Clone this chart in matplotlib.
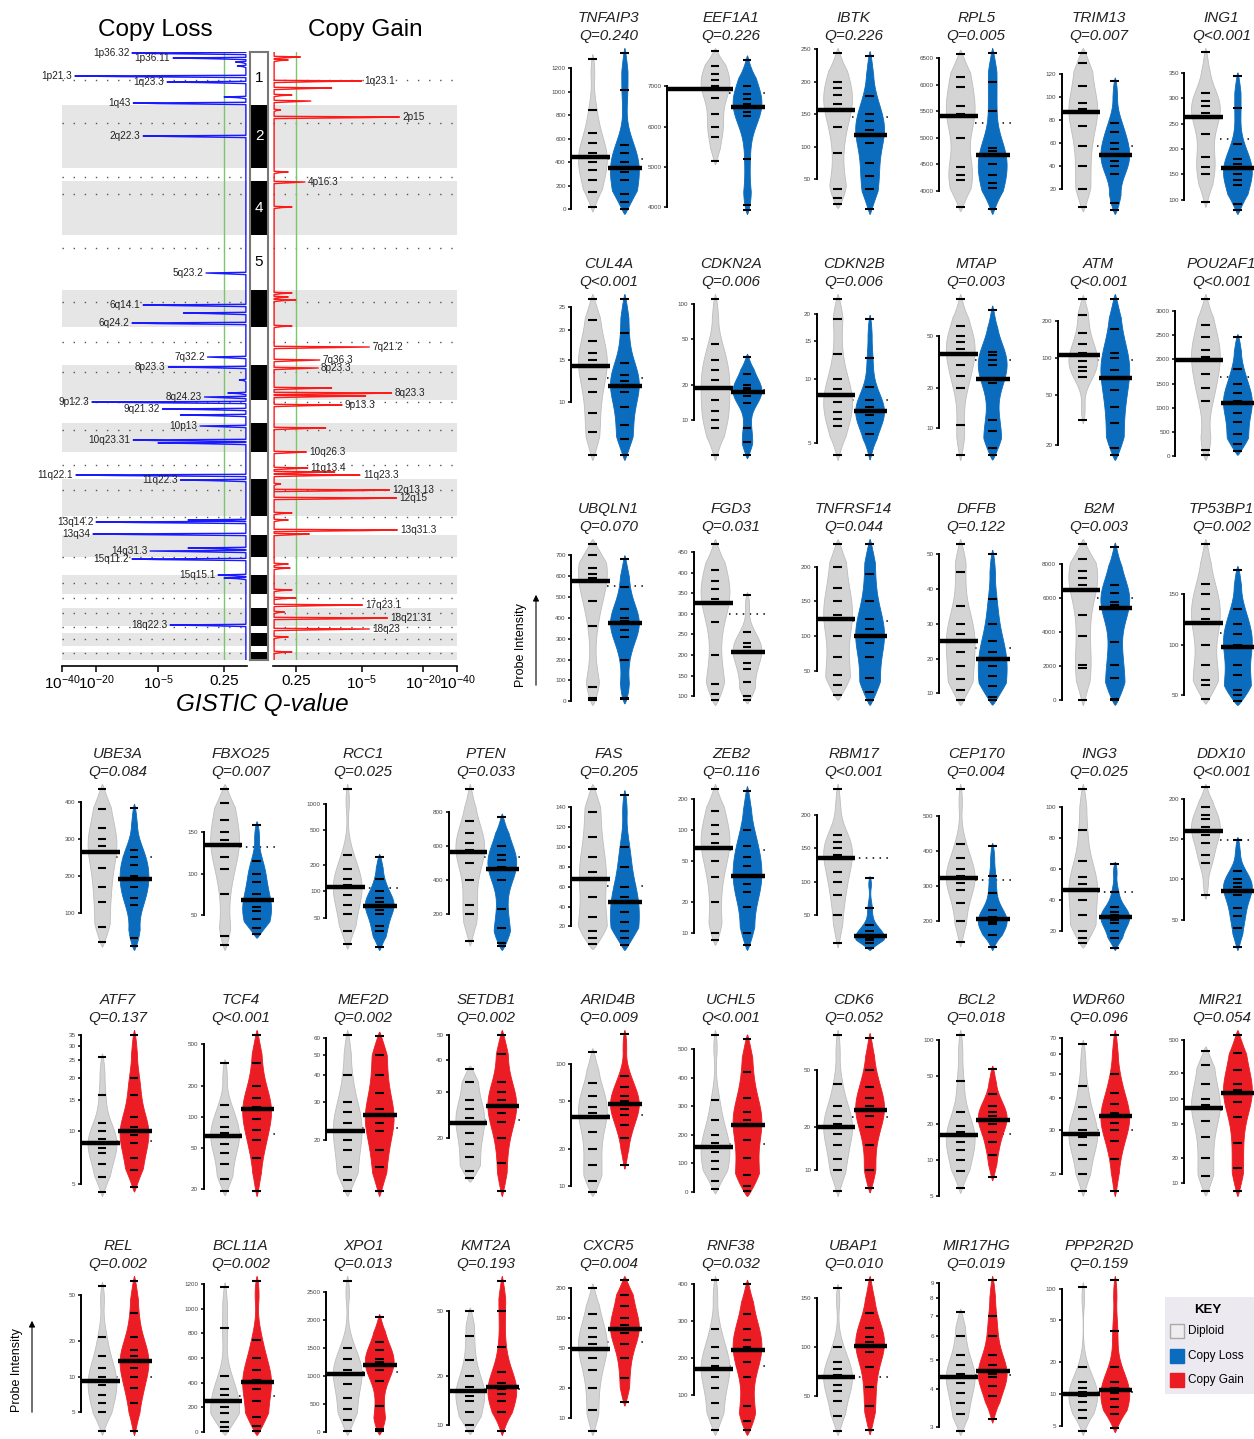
import numpy as np
import matplotlib
matplotlib.use('Agg')
import matplotlib.pyplot as plt
from matplotlib import mlab
from matplotlib.patches import Rectangle, FancyArrowPatch

plt.rcParams['font.family'] = ['Liberation Sans', 'DejaVu Sans']
plt.rcParams['mathtext.default'] = 'regular'

W, H = 1254, 1439

# ---------------- GISTIC data ----------------
# genome index (marker order) of chromosome boundaries, chr1 .. chr22
chrom_edges = [52, 105, 168, 181, 235, 290, 327, 365, 400, 423, 452, 479,
               516, 535, 557, 575, 594, 608, 626, 633, 646, 652, 660]
chrom_names = {1: '1', 2: '2', 4: '4', 5: '5'}
centromeres = [80, 123, 177, 194, 248, 302, 342, 372, 402, 430, 465, 490,
               517, 557, 583, 598, 613, 627, 639, 653]

# peaks as -log10(Q)
loss_pos = [53, 58, 62, 66, 76, 82, 97, 103, 136, 273, 305, 313, 323, 357, 367,
            380, 393, 397, 402, 409, 415, 426, 440, 443, 475, 480, 520, 522,
            534, 548, 551, 559, 575, 578, 625]
loss_score = [11.3, 4.0, 0.3, 0.25, 32.4, 4.4, 0.6, 11.0, 8.6, 1.8, 8.6, 3.3, 11.3,
              1.7, 4.3, 0.2, 0.5, 1.9, 22.4, 4.7, 3.5, 2.2, 11.0, 5.0, 31.8,
              3.5, 3.0, 20.0, 21.8, 3.0, 6.9, 11.3, 1.0, 0.6, 4.2]
loss_label = ['1p36.32', '1p36.11', '', '', '1p21.3', '1q23.3', '', '1q43', '2q22.3',
              '5q23.2', '6q14.1', '', '6q24.2', '7q32.2', '8p23.3', '', '', '8q24.23',
              '9p12.3', '9q21.32', '', '10p13', '10q23.31', '', '11q22.1', '11q22.3',
              '', '13q14.2', '13q34', '', '14q31.3', '15q11.2', '15q15.1', '', '18q22.3']

gain_pos = [57, 60, 81, 88, 95, 101, 110, 117, 172, 182, 207, 293, 297, 300, 326,
            347, 360, 368, 388, 393, 396, 405, 428, 452, 468, 472, 475, 484, 490,
            498, 513, 520, 530, 534, 564, 568, 590, 598, 605, 612, 618, 629, 637, 652]
gain_score = [0.9, 0.4, 5.0, 3.0, 0.5, 1.6, 0.2, 14.2, 0.4, 1.2, 0.5, 0.5, 0.4, 0.6,
              0.5, 6.9, 2.2, 2.1, 3.0, 12.3, 6.0, 3.7, 2.6, 1.3, 1.4, 3.2, 4.9, 0.2,
              11.8, 13.5, 0.5, 0.4, 13.7, 1.5, 0.4, 0.45, 0.5, 0.6, 5.2, 0.3, 11.3,
              6.9, 0.4, 0.5]
gain_label = ['', '', '1q23.1', '', '', '', '', '2p15', '', '4p16.3', '', '', '', '',
              '', '7q21.2', '7q36.3', '8p23.3', '', '8q23.3', '', '9p13.3', '',
              '10q26.3', '11q13.4', '', '11q23.3', '', '12q13.13', '12q15', '', '',
              '13q31.3', '', '', '', '', '', '17q23.1', '', '18q21.31', '18q23', '', '']

# GISTIC axis: -log10(Q) anchors and their relative positions
q_anchor_score = [0, 0.602, 5, 20, 40]
q_anchor_pos = [0, 23, 89, 151, 185]
q_ticks = [40, 20, 5, 0.602]
q_ticklabels = ['$10^{-40}$', '$10^{-20}$', '$10^{-5}$', '0.25']

# ---------------- probe intensity data ----------------
gene_names = ['TNFAIP3', 'EEF1A1', 'IBTK', 'RPL5', 'TRIM13', 'ING1',
              'CUL4A', 'CDKN2A', 'CDKN2B', 'MTAP', 'ATM', 'POU2AF1',
              'UBQLN1', 'FGD3', 'TNFRSF14', 'DFFB', 'B2M', 'TP53BP1',
              'UBE3A', 'FBXO25', 'RCC1', 'PTEN', 'FAS', 'ZEB2', 'RBM17', 'CEP170', 'ING3', 'DDX10',
              'ATF7', 'TCF4', 'MEF2D', 'SETDB1', 'ARID4B', 'UCHL5', 'CDK6', 'BCL2', 'WDR60', 'MIR21',
              'REL', 'BCL11A', 'XPO1', 'KMT2A', 'CXCR5', 'RNF38', 'UBAP1', 'MIR17HG', 'PPP2R2D']
q_labels = ['Q=0.240', 'Q=0.226', 'Q=0.226', 'Q=0.005', 'Q=0.007', 'Q<0.001',
            'Q<0.001', 'Q=0.006', 'Q=0.006', 'Q=0.003', 'Q<0.001', 'Q<0.001',
            'Q=0.070', 'Q=0.031', 'Q=0.044', 'Q=0.122', 'Q=0.003', 'Q=0.002',
            'Q=0.084', 'Q=0.007', 'Q=0.025', 'Q=0.033', 'Q=0.205', 'Q=0.116', 'Q<0.001', 'Q=0.004', 'Q=0.025', 'Q<0.001',
            'Q=0.137', 'Q<0.001', 'Q=0.002', 'Q=0.002', 'Q=0.009', 'Q<0.001', 'Q=0.052', 'Q=0.018', 'Q=0.096', 'Q=0.054',
            'Q=0.002', 'Q=0.002', 'Q=0.013', 'Q=0.193', 'Q=0.004', 'Q=0.032', 'Q=0.010', 'Q=0.019', 'Q=0.159']
alt_type = ['loss'] * 28 + ['gain'] * 19
log_axis = [False, False, False, False, False, False,
            True, True, True, True, True, False,
            False, False, False, False, False, False,
            False, False, True, False, False, True, False, False, False, False,
            True, True, True, True, True, False, True, True, True, True,
            True, False, False, True, True, False, False, True, True]
y_ticks = [
    [0, 200, 400, 600, 800, 1000, 1200], [4000, 5000, 6000, 7000], [50, 100, 150, 200, 250],
    [4000, 4500, 5000, 5500, 6000, 6500], [20, 40, 60, 80, 100, 120], [100, 150, 200, 250, 300, 350],
    [10, 15, 20, 25], [10, 20, 50, 100], [5, 10, 15, 20], [10, 20, 50], [20, 50, 100, 200],
    [0, 500, 1000, 1500, 2000, 2500, 3000],
    [0, 100, 200, 300, 400, 500, 600, 700], [100, 150, 200, 250, 300, 350, 400, 450], [50, 100, 150, 200],
    [10, 20, 30, 40, 50], [0, 2000, 4000, 6000, 8000], [50, 100, 150],
    [100, 200, 300, 400], [50, 100, 150], [50, 100, 200, 500, 1000], [200, 400, 600, 800],
    [20, 40, 60, 80, 100, 120, 140], [10, 20, 50, 100, 200], [50, 100, 150, 200], [200, 300, 400, 500],
    [20, 40, 60, 80, 100], [50, 100, 150, 200],
    [5, 10, 15, 20, 25, 30, 35], [20, 50, 100, 200, 500], [20, 30, 40, 50, 60], [20, 30, 40, 50],
    [10, 20, 50, 100], [0, 100, 200, 300, 400, 500], [10, 20, 50], [5, 10, 20, 50, 100],
    [20, 30, 40, 50, 60, 70], [10, 20, 50, 100, 200, 500],
    [5, 10, 20, 50], [0, 200, 400, 600, 800, 1000, 1200], [0, 500, 1000, 1500, 2000, 2500], [10, 20, 50],
    [10, 20, 50, 100, 200], [100, 200, 300, 400], [50, 100, 150], [3, 4, 5, 6, 7, 8, 9], [5, 10, 20, 50, 100]]

diploid_values = [
    [20, 150, 250, 330, 400, 440, 480, 560, 650, 840, 1280],
    [5150, 5750, 6000, 6300, 6700, 6920, 7000, 7150, 7300, 7500, 7860],
    [12, 20, 35, 90, 130, 156, 165, 180, 190, 200, 245],
    [3700, 4200, 4300, 4450, 5000, 5400, 5450, 5600, 5950, 6150, 6570],
    [5, 20, 40, 58, 75, 87, 90, 95, 110, 130, 139],
    [95, 150, 165, 185, 230, 264, 270, 285, 295, 310, 390],
    [6.0, 7.5, 9.0, 11, 12.5, 14.2, 15, 16, 18, 22, 27],
    [5, 8.5, 10, 12, 15, 19, 22, 27, 33, 45, 110],
    [4.4, 6.0, 6.5, 7.0, 7.8, 8.4, 9, 10, 13, 19, 23.6],
    [6.2, 10.5, 20, 25, 30, 36.6, 40, 45, 50, 60, 96],
    [32, 70, 78, 85, 95, 105, 110, 130, 160, 220, 300],
    [20, 130, 1150, 1400, 1700, 1980, 2050, 2200, 2450, 2700, 3250],
    [5, 15, 70, 360, 480, 577, 590, 610, 640, 700, 755],
    [90, 105, 130, 200, 280, 325, 335, 360, 380, 405, 470],
    [15, 30, 45, 70, 100, 125, 130, 150, 170, 200, 233],
    [8, 11, 14, 18, 22, 25, 27, 30, 35, 45, 53],
    [0, 1900, 2100, 3800, 5000, 6470, 6800, 7200, 7600, 8300, 9200],
    [46, 60, 65, 80, 100, 121, 125, 135, 150, 160, 200],
    [20, 60, 130, 170, 220, 264, 280, 300, 330, 380, 436],
    [14, 25, 75, 105, 120, 135, 140, 150, 165, 185, 202],
    [25, 35, 55, 70, 90, 113, 120, 140, 180, 260, 1500],
    [40, 200, 250, 400, 500, 567, 580, 620, 680, 750, 940],
    [2, 8, 15, 30, 50, 68, 75, 90, 110, 135, 158],
    [8.5, 10, 20, 35, 50, 67, 75, 90, 110, 150, 250],
    [8, 50, 80, 100, 115, 136, 140, 150, 160, 170, 240],
    [140, 200, 250, 290, 310, 324, 330, 350, 380, 420, 580],
    [12, 15, 20, 30, 40, 46, 50, 55, 65, 85, 112],
    [80, 120, 130, 145, 155, 160, 165, 175, 180, 190, 215],
    [4.5, 5.5, 6.5, 7.5, 8, 8.5, 9, 10, 11, 16, 26],
    [19, 25, 35, 45, 55, 65, 70, 80, 100, 130, 330],
    [11.5, 13, 15, 18, 20, 22, 24, 27, 30, 40, 62],
    [14, 15, 17, 19, 21, 22.8, 24, 26, 28, 33, 37],
    [9, 11, 15, 20, 28, 36.6, 40, 45, 55, 70, 125],
    [11, 40, 80, 110, 140, 158, 170, 200, 250, 320, 550],
    [7.1, 10, 12, 15, 18, 20, 21, 24, 28, 40, 89],
    [5.8, 8, 10, 12, 14, 16, 17, 19, 25, 45, 110],
    [17, 20, 23, 26, 28, 28.8, 30, 33, 37, 45, 66],
    [8, 12, 20, 35, 55, 78, 85, 100, 150, 250, 370],
    [3.5, 5, 6, 7, 8.5, 9.3, 10, 12, 15, 22, 59],
    [10, 40, 80, 150, 200, 252, 300, 350, 450, 840, 1180],
    [20, 200, 400, 600, 850, 1022, 1050, 1100, 1300, 1500, 2700],
    [9.2, 10, 12, 14, 15, 16.2, 17, 20, 25, 35, 50],
    [7.5, 12, 20, 30, 40, 48.6, 55, 65, 80, 110, 200],
    [5, 40, 80, 120, 150, 172, 180, 200, 230, 280, 410],
    [15, 30, 45, 55, 62, 70, 72, 78, 85, 100, 160],
    [2.9, 3.3, 3.6, 3.9, 4.2, 4.4, 4.5, 4.8, 5.2, 6, 7.2],
    [4.5, 6, 7, 8.5, 9.5, 10.1, 10.5, 11.5, 13, 18, 105]]

altered_values = [
    [0, 60, 130, 250, 320, 355, 400, 480, 550, 1010, 1330],
    [3950, 4050, 5200, 6250, 6350, 6480, 6550, 6680, 6800, 7000, 7650],
    [3, 35, 55, 75, 105, 118, 125, 140, 150, 178, 240],
    [3650, 4050, 4150, 4300, 4500, 4680, 4750, 4800, 5500, 6050, 6600],
    [2, 8, 33, 40, 45, 50, 55, 60, 70, 78, 114],
    [80, 92, 130, 140, 150, 162, 170, 180, 210, 280, 343],
    [6.0, 7.0, 8.0, 9.5, 11, 11.7, 12.2, 13, 14.5, 19.5, 27],
    [5.0, 6.5, 8.5, 14, 16, 17.3, 18, 19, 20, 25, 35],
    [4.4, 5.5, 6.2, 6.8, 7.0, 7.1, 7.4, 8, 9.2, 12.5, 19],
    [6.2, 7.0, 9.5, 11.5, 22, 23.4, 30, 33, 36, 38, 79],
    [16.5, 19, 30, 40, 55, 69, 80, 100, 110, 170, 300],
    [100, 250, 450, 700, 900, 1100, 1150, 1300, 1500, 1800, 2450],
    [10, 15, 200, 310, 340, 375, 385, 400, 440, 550, 680],
    [90, 100, 135, 165, 180, 207, 210, 220, 230, 255, 345],
    [8, 20, 40, 70, 90, 101, 110, 125, 150, 190, 233],
    [8, 9, 12, 15, 18, 19.9, 22, 25, 30, 37, 50],
    [0, 100, 1300, 2100, 3400, 5450, 5600, 5800, 6300, 6800, 9000],
    [44, 50, 55, 70, 80, 98, 100, 110, 120, 135, 174],
    [10, 30, 120, 140, 170, 190, 200, 230, 250, 270, 384],
    [27, 35, 45, 55, 60, 68, 75, 90, 100, 115, 159],
    [23, 35, 40, 55, 62, 69, 75, 85, 100, 140, 250],
    [10, 30, 120, 230, 400, 465, 480, 520, 550, 600, 770],
    [1, 8, 15, 25, 35, 45, 50, 60, 80, 100, 152],
    [7.6, 10, 18, 25, 30, 36, 45, 55, 70, 100, 238],
    [0, 8, 12, 15, 17, 18, 20, 25, 35, 60, 105],
    [125, 160, 190, 195, 200, 205, 210, 230, 280, 330, 415],
    [9, 15, 20, 25, 27, 29, 30, 32, 35, 45, 63],
    [16, 40, 55, 65, 80, 86, 90, 95, 100, 110, 149],
    [4.8, 6, 7, 8.5, 9.5, 10, 10.5, 12, 16, 20, 35],
    [19, 40, 60, 75, 95, 118, 125, 150, 200, 330, 620],
    [11.5, 15, 18, 22, 24, 26, 28, 33, 40, 50, 61],
    [12.5, 16, 20, 23, 25, 26.5, 28, 30, 33, 42, 50],
    [15, 25, 32, 38, 43, 47, 50, 55, 65, 80, 177],
    [2, 20, 60, 120, 180, 234, 250, 280, 330, 420, 535],
    [7.5, 10, 15, 20, 24, 26.5, 28, 32, 38, 50, 85],
    [7.2, 11, 14, 17, 20, 21.6, 23, 25, 28, 35, 57],
    [17, 23, 27, 30, 32, 34, 35, 38, 42, 50, 72],
    [8, 15, 30, 60, 90, 118, 125, 150, 220, 350, 570],
    [3.5, 6, 8, 10, 12, 13.7, 15, 17, 22, 35, 66],
    [10, 50, 120, 250, 350, 406, 420, 500, 600, 750, 1230],
    [10, 50, 450, 900, 1100, 1197, 1250, 1300, 1450, 1600, 2040],
    [9.2, 12, 14, 15.5, 16.5, 17, 18, 21, 30, 50, 77],
    [14.5, 25, 40, 55, 70, 77, 85, 100, 130, 170, 240],
    [5, 30, 70, 150, 190, 223, 230, 250, 280, 320, 400],
    [16, 40, 60, 80, 95, 101, 105, 110, 120, 135, 168],
    [3.2, 3.8, 4.1, 4.4, 4.5, 4.6, 4.8, 5.2, 6, 7, 9.2],
    [4.8, 6.5, 7.5, 9, 10.2, 10.9, 11.5, 13, 18, 40, 120]]

ref_levels = [430, 6840, 145, 5270, 58, 220,
              12.6, 18, 8.0, 32.9, 96, 1640,
              553, 300, 122, 23, 5990, 111,
              251, 132, 109, 539, 61, 63, 135.5, 316, 45, 149,
              8.8, 68, 22.8, 23.5, 38, 167, 23.5, 16.5, 29.9, 73,
              10, 288, 1069, 16.5, 58, 179, 70, 4.45, 10.5]

grey_altered = ['FGD3']

# ---------------- styling ----------------
grey, grey_edge = '#d4d4d4', '#bdbdbd'
loss_col, gain_col = '#0b6cbd', '#ec1c24'

fig = plt.figure(figsize=(W / 100, H / 100), dpi=100)


def px_axes(left, top, width, height):
    return fig.add_axes([left / W, 1 - (top + height) / H, width / W, height / H])


def ftext(x, y, s, **kw):
    return fig.text(x / W, 1 - y / H, s, **kw)


def q_fwd(v):
    return np.interp(v, q_anchor_score, q_anchor_pos)


def q_inv(p):
    return np.interp(p, q_anchor_pos, q_anchor_score)


def profile(pos, score, base=0.03):
    order = np.argsort(pos)
    ys, xs = [chrom_edges[0]], [base]
    for i in order:
        p, s = pos[i], score[i]
        ys += [p - 0.7, p, p + 0.6, p + 1.6]
        xs += [base, s, s * 0.45, base]
    ys.append(chrom_edges[-1])
    xs.append(base)
    return np.array(xs), np.array(ys)


def gistic_axes(left, width, pos, score, labels, colour, side):
    ax = px_axes(left, 52, width, 608)
    ax.set_xscale('function', functions=(q_fwd, q_inv))
    if side == 'loss':
        ax.set_xlim(40, 0)
    else:
        ax.set_xlim(0, 40)
    ax.set_ylim(chrom_edges[-1], chrom_edges[0])
    for k in range(1, len(chrom_edges) - 1, 2):
        ax.axhspan(chrom_edges[k], chrom_edges[k + 1], color='#e6e6e6', lw=0, zorder=0)
    for c in centromeres:
        ax.axhline(c, color='#555555', lw=1.0, ls=(0, (1, 7)), zorder=1)
    ax.axvline(0.602, color='#7dc46e', lw=1.0, zorder=2)
    xs, ys = profile(pos, score)
    ax.plot(xs, ys, color=colour, lw=1.0, zorder=3)
    for p, s, lab in zip(pos, score, labels):
        if lab:
            off = -2 if side == 'loss' else 2
            ax.annotate(lab, (s, p), xytext=(off, 0), textcoords='offset points',
                        ha='right' if side == 'loss' else 'left', va='center',
                        fontsize=7.2, color='#222222', zorder=4)
    for sp in ['top', 'right', 'left']:
        ax.spines[sp].set_visible(False)
    ax.spines['bottom'].set_position(('outward', 4))
    ax.spines['bottom'].set_linewidth(1.2)
    ax.set_yticks([])
    ax.set_xticks(q_ticks)
    ax.set_xticklabels(q_ticklabels)
    ax.xaxis.set_minor_locator(matplotlib.ticker.NullLocator())
    ax.tick_params(axis='x', labelsize=11, length=4, width=1.1, pad=2)
    ax.patch.set_visible(False)
    return ax


gistic_axes(62, 185, loss_pos, loss_score, loss_label, '#1a1aff', 'loss')
gistic_axes(273, 184, gain_pos, gain_score, gain_label, '#ff1a1a', 'gain')

# chromosome ideogram
ax_id = px_axes(250, 52, 18, 608)
sizes = np.diff(chrom_edges)
centres = np.array(chrom_edges[:-1]) + sizes / 2
cols = ['white' if k % 2 == 0 else 'black' for k in range(len(sizes))]
ax_id.barh(centres, 1, height=sizes, color=cols, edgecolor='none')
for k, nm in chrom_names.items():
    ax_id.text(0.5, centres[k - 1], nm, ha='center', va='center', fontsize=11,
               color='black' if k % 2 == 1 else 'white')
ax_id.set_xlim(0, 1)
ax_id.set_ylim(chrom_edges[-1], chrom_edges[0])
ax_id.set_xticks([])
ax_id.set_yticks([])
for sp in ax_id.spines.values():
    sp.set_color('#777777')
    sp.set_linewidth(1.5)

ftext(155, 30, 'Copy Loss', ha='center', va='center', fontsize=17.5)
ftext(365, 30, 'Copy Gain', ha='center', va='center', fontsize=17.5)
ftext(262, 705, 'GISTIC Q-value', ha='center', va='center', fontsize=17.5, style='italic')

# ---------------- violin panels ----------------
row_title_y = [18, 264, 509, 754, 1000, 1246]
col_x0, col_step = 118, 122.6
unit = 32
spine_gap = {'EEF1A1': 48, 'ATM': 25, 'POU2AF1': 30}


def tick_text(v):
    return str(int(v)) if float(v).is_integer() else str(v)


def violin_stats(x):
    # gaussian KDE with short, pointed tails past the extreme values
    rng = x.max() - x.min()
    e = 0.03 * rng
    lo, hi = x.min() - e, x.max() + e
    coords = np.linspace(lo, hi, 240)
    vals = mlab.GaussianKDE(x, 0.4).evaluate(coords)
    taper = np.clip(np.minimum(coords - lo, hi - coords) / (5 * e), 0, 1) ** 0.7
    return dict(coords=coords, vals=vals * taper, mean=x.mean(), median=np.median(x),
                min=lo, max=hi)


for i, gene in enumerate(gene_names):
    if i < 18:
        r, c = i // 6, 4 + i % 6
    else:
        j = i - 18
        r, c = 3 + j // 10, j % 10
    cx = col_x0 + col_step * c
    gap = spine_gap.get(gene, 21)
    left = cx - unit / 2 - gap
    right = cx + unit / 2 + 30
    top = row_title_y[r] + 30
    ax = px_axes(left, top, right - left, min(166, H - top - 4))

    if log_axis[i]:
        tf = np.log10
    else:
        def tf(v):
            return np.asarray(v, dtype=float)
    d = tf(diploid_values[i])
    a = tf(altered_values[i])

    if gene in grey_altered:
        colour, edge = grey, grey_edge
    elif alt_type[i] == 'loss':
        colour, edge = loss_col, loss_col
    else:
        colour, edge = gain_col, gain_col

    stats = [violin_stats(d), violin_stats(a)]
    parts = ax.violin(stats, positions=[1, 2], widths=0.9, showextrema=False)
    for body, fc, ec in zip(parts['bodies'], [grey, colour], [grey_edge, edge]):
        body.set_facecolor(fc)
        body.set_edgecolor(ec)
        body.set_alpha(1)
        body.set_linewidth(0.6)
        body.set_zorder(1)

    ax.plot([1.45, 2.6], [tf(ref_levels[i])] * 2, color='k', lw=1.1,
            ls=(0, (1, 3.5)), zorder=0.5)
    ax.hlines(d, 0.86, 1.14, colors='k', lw=1.5, zorder=3)
    ax.hlines(a, 1.86, 2.14, colors='k', lw=1.5, zorder=3)
    ax.hlines(np.median(d), 1 - gap / unit, 1.55, colors='k', lw=3.2, zorder=4)
    ax.hlines(np.median(a), 1.5, 2.55, colors='k', lw=3.2, zorder=4, clip_on=False)

    lo = min(s['min'] for s in stats)
    hi = max(s['max'] for s in stats)
    ax.set_ylim(lo, hi)
    ax.set_xlim(1 - gap / unit, 2 + 30 / unit)
    ticks = y_ticks[i]
    ax.set_yticks(tf(ticks))
    ax.set_yticklabels([tick_text(t) for t in ticks])
    ax.set_xticks([])
    for sp in ['top', 'right', 'bottom']:
        ax.spines[sp].set_visible(False)
    ax.spines['left'].set_bounds(tf(ticks[0]), tf(ticks[-1]))
    ax.spines['left'].set_linewidth(1.4)
    ax.tick_params(axis='y', labelsize=4.5, length=2.5, width=1.1, pad=1.5,
                   labelcolor='#444444')
    ax.patch.set_visible(False)

    ftext(cx, row_title_y[r], gene, ha='center', va='center', fontsize=11,
          style='italic', color='#222222')
    ftext(cx, row_title_y[r] + 18, q_labels[i], ha='center', va='center', fontsize=11,
          style='italic', color='#222222')

# probe intensity labels
for tx, ty, y0, y1 in [(521, 645, 688, 592), (17, 1370, 1415, 1318)]:
    ftext(tx, ty, 'Probe Intensity', rotation=90, ha='center', va='center', fontsize=9)
    fig.add_artist(FancyArrowPatch((tx / W + 15 / W, 1 - y0 / H), (tx / W + 15 / W, 1 - y1 / H),
                                   transform=fig.transFigure, arrowstyle='-|>',
                                   mutation_scale=9, lw=0.8, color='k'))

# key
fig.add_artist(Rectangle((1165 / W, 1 - 1394 / H), 95 / W, 97 / H, transform=fig.transFigure,
                         facecolor='#ece9f1', edgecolor='none'))
ftext(1208, 1310, 'KEY', ha='center', va='center', fontsize=9.5, weight='bold')
for k, (lab, fc, ec) in enumerate([('Diploid', '#eeeeee', '#aaaaaa'),
                                   ('Copy Loss', loss_col, loss_col),
                                   ('Copy Gain', gain_col, gain_col)]):
    yk = 1331 + 24.5 * k
    fig.add_artist(Rectangle((1170 / W, 1 - (yk + 7) / H), 14 / W, 14 / H,
                             transform=fig.transFigure, facecolor=fc, edgecolor=ec, lw=1))
    ftext(1188, yk, lab, ha='left', va='center', fontsize=8.5)

fig.savefig('out.png', dpi=100)
